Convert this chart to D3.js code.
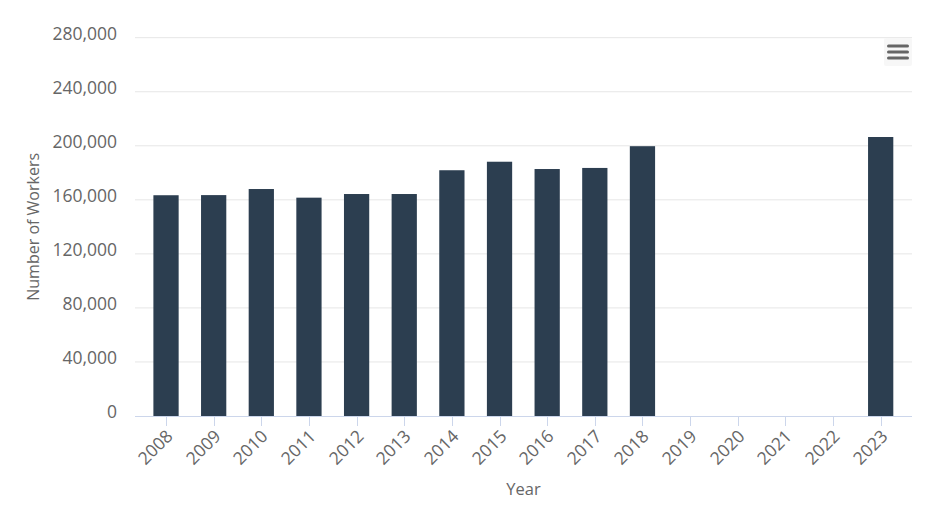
<!DOCTYPE html>
<html><head><meta charset="utf-8">
<script src="https://cdn.jsdelivr.net/npm/d3@7"></script>
<style>body{margin:0;background:#fff;}svg{display:block;font-family:"Open Sans",sans-serif;}</style>
</head><body><svg id="c" width="934" height="514"></svg>
<script>
const years = ["2008","2009","2010","2011","2012","2013","2014","2015","2016","2017","2018","2019","2020","2021","2022","2023"];
const workers = [163400,163500,168000,161600,164300,164300,181900,188200,182800,183600,199700,null,null,null,null,206500];
const yTicks = [0,40000,80000,120000,160000,200000,240000,280000];
const yTitle = "Number of Workers";
const xTitle = "Year";

const svg = d3.select("#c");
const plotL = 135, plotR = 912, plotT = 37.7, plotB = 416;
const x = d3.scaleBand().domain(years).range([142.2, 904.5]).paddingInner(0.47).paddingOuter(0.235);
const y = d3.scaleLinear().domain([0,280000]).range([plotB, plotT]);
const fmt = d3.format(",");

// gridlines
svg.append("g").selectAll("line").data(yTicks.filter(d=>d>0)).join("line")
  .attr("x1",plotL).attr("x2",plotR).attr("y1",d=>y(d)).attr("y2",d=>y(d))
  .attr("stroke","#e6e6e6").attr("stroke-width",1);

// y labels
svg.append("g").selectAll("text").data(yTicks).join("text")
  .attr("x",117).attr("y",d=>y(d)-4).attr("dy","0.35em")
  .attr("text-anchor","end").attr("fill","#666").style("font-size","17.5px")
  .text(d=>fmt(d));

// bars
svg.append("g").selectAll("rect").data(years.map((yr,i)=>({yr,v:workers[i]})).filter(d=>d.v!=null)).join("rect")
  .attr("x",d=>x(d.yr)).attr("width",x.bandwidth())
  .attr("y",d=>y(d.v)).attr("height",d=>plotB-y(d.v))
  .attr("fill","#2c3e50");

// x axis line
svg.append("line").attr("x1",plotL).attr("x2",plotR).attr("y1",plotB+0.5).attr("y2",plotB+0.5)
  .attr("stroke","#ccd6eb").attr("stroke-width",1);

// x ticks and labels
const xg = svg.append("g");
years.forEach(yr=>{
  const cx = Math.round(x(yr)+x.bandwidth()/2)+0.5;
  xg.append("line").attr("x1",cx).attr("x2",cx).attr("y1",plotB).attr("y2",plotB+10)
    .attr("stroke","#ccd6eb").attr("stroke-width",1);
  xg.append("text").attr("transform",`translate(${cx+3},${plotB+17}) rotate(-45)`)
    .attr("text-anchor","end").attr("dy","0.35em").attr("fill","#666").style("font-size","17.5px")
    .text(yr);
});

// axis titles
svg.append("text").attr("x",(plotL+plotR)/2).attr("y",489).attr("dy","0.35em")
  .attr("text-anchor","middle").attr("fill","#666").style("font-size","16.5px").text(xTitle);
svg.append("text").attr("transform",`translate(33,${(plotT+plotB)/2}) rotate(-90)`)
  .attr("text-anchor","middle").attr("dy","0.35em").attr("fill","#666").style("font-size","16px").text(yTitle);

// menu button
const mb = svg.append("g").attr("transform","translate(884,38)");
mb.append("rect").attr("width",28).attr("height",28).attr("rx",2).attr("fill","#f7f7f7");
[8,14,20].forEach(yy=>mb.append("line").attr("x1",4.5).attr("x2",23.5).attr("y1",yy).attr("y2",yy)
  .attr("stroke","#666").attr("stroke-width",3).attr("stroke-linecap","round"));
</script></body></html>
